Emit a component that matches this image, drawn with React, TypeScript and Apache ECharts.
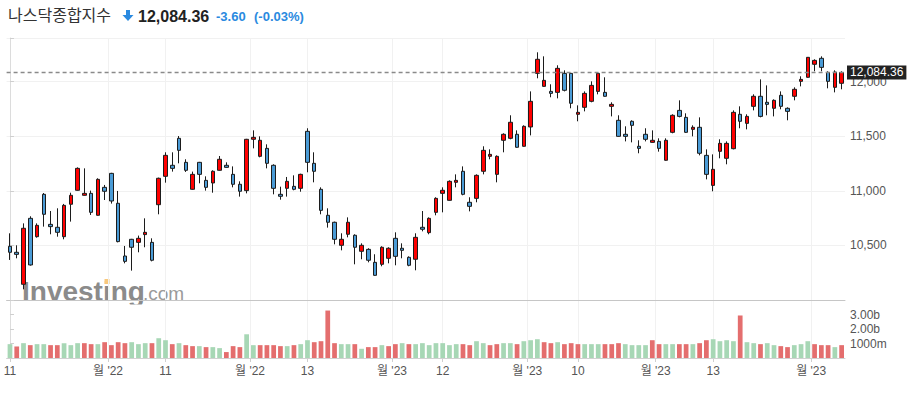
import React, { useEffect, useRef } from "react";
import * as echarts from "echarts";

const octDays = [11, 12, 13, 14, 17, 18, 19, 20, 21, 24, 25, 26, 27, 28, 31];
const novDays = [1, 2, 3, 4, 7, 8, 9, 10, 11, 14, 15, 16, 17, 18, 21, 22, 23, 25, 28, 29, 30];
const decDays = [1, 2, 5, 6, 7, 8, 9, 12, 13, 14, 15, 16, 19, 20, 21, 22, 23, 27, 28, 29, 30];
const janDays = [3, 4, 5, 6, 9, 10, 11, 12, 13, 17, 18, 19, 20, 23, 24, 25, 26, 27, 30, 31];
const febDays = [1, 2, 3, 6, 7, 8, 9, 10, 13, 14, 15, 16, 17, 21, 22, 23, 24, 27, 28];
const marDays = [1, 2, 3, 6, 7, 8, 9, 10, 13, 14, 15, 16, 17, 20, 21, 22, 23, 24, 27, 28, 29, 30, 31];
const aprDays = [3, 4, 5, 6, 10];

const categories: string[] = [
  ...octDays.map((d) => `2022-10-${d}`),
  ...novDays.map((d) => `2022-11-${d}`),
  ...decDays.map((d) => `2022-12-${d}`),
  ...janDays.map((d) => `2023-01-${d}`),
  ...febDays.map((d) => `2023-02-${d}`),
  ...marDays.map((d) => `2023-03-${d}`),
  ...aprDays.map((d) => `2023-04-${d}`),
];

// [open, close, low, high]
const ohlc: number[][] = [
  [10492, 10437, 10367, 10611], [10437, 10418, 10382, 10501], [10144, 10657, 10098, 10702], [10748, 10321, 10315, 10767],
  [10580, 10684, 10571, 10702], [10968, 10785, 10672, 10980], [10693, 10672, 10602, 10815], [10666, 10620, 10580, 10840],
  [10580, 10867, 10556, 10880], [10877, 10959, 10718, 10983], [11005, 11206, 11002, 11215], [10959, 10977, 10956, 11206],
  [10977, 10803, 10779, 11002], [10776, 11105, 10773, 11115], [11032, 10996, 10916, 11054], [11160, 10907, 10883, 11165],
  [10886, 10535, 10528, 10999], [10403, 10354, 10336, 10495], [10556, 10483, 10269, 10560], [10528, 10565, 10437, 10590],
  [10599, 10620, 10483, 10748], [10528, 10364, 10354, 10565], [10873, 11115, 10785, 11121], [11133, 11325, 11075, 11353],
  [11234, 11206, 11176, 11353], [11481, 11371, 11252, 11502], [11261, 11188, 11173, 11289], [11014, 11151, 11010, 11176],
  [11261, 11151, 11069, 11265], [11096, 11032, 11002, 11133], [11072, 11179, 10983, 11188], [11188, 11289, 11185, 11319],
  [11234, 11215, 11212, 11261], [11151, 11060, 11032, 11224], [11060, 10996, 10947, 11087], [11002, 11472, 10977, 11476],
  [11472, 11490, 11389, 11554], [11316, 11463, 11307, 11499], [11389, 11252, 11206, 11426], [11234, 11023, 10968, 11243],
  [10968, 10950, 10919, 11038], [11023, 11087, 10947, 11127], [11041, 11014, 11005, 11142], [11023, 11151, 10992, 11157],
  [11545, 11261, 11170, 11573], [11252, 11179, 11078, 11353], [11014, 10821, 10785, 11032], [10776, 10712, 10663, 10840],
  [10712, 10556, 10510, 10718], [10501, 10556, 10455, 10611], [10602, 10712, 10574, 10757], [10593, 10483, 10327, 10602],
  [10446, 10501, 10373, 10519], [10464, 10364, 10345, 10474], [10345, 10226, 10223, 10419], [10327, 10483, 10309, 10492],
  [10382, 10474, 10336, 10483], [10565, 10400, 10318, 10620], [10474, 10455, 10382, 10519], [10391, 10318, 10309, 10400],
  [10373, 10574, 10272, 10611], [10666, 10648, 10629, 10815], [10617, 10748, 10602, 10757], [10803, 10931, 10776, 10941],
  [10977, 11005, 10803, 11032], [10913, 11087, 10910, 11096], [11078, 11096, 11032, 11151], [11179, 10968, 10959, 11224],
  [10895, 10858, 10812, 10941], [10931, 11142, 10895, 11151], [11179, 11371, 11151, 11408], [11316, 11334, 11289, 11380],
  [11151, 11316, 11078, 11325], [11463, 11518, 11353, 11527], [11481, 11628, 11472, 11692], [11518, 11399, 11395, 11554],
  [11408, 11591, 11405, 11600], [11585, 11820, 11508, 11911], [12076, 12205, 12031, 12269], [11957, 12012, 11954, 12232],
  [11911, 11893, 11857, 11976], [11902, 12122, 11847, 12150], [12076, 11921, 11911, 12104], [12076, 11802, 11756, 12080],
  [11701, 11719, 11637, 11783], [11765, 11893, 11728, 11911], [11820, 11966, 11811, 12003], [11911, 12076, 11884, 12085],
  [11902, 11866, 11863, 12040], [11774, 11792, 11682, 11811], [11646, 11499, 11496, 11692], [11518, 11499, 11453, 11591],
  [11637, 11600, 11444, 11646], [11408, 11389, 11344, 11463], [11518, 11472, 11453, 11573], [11444, 11463, 11441, 11554],
  [11453, 11389, 11359, 11481], [11280, 11463, 11276, 11481], [11536, 11692, 11527, 11701], [11737, 11682, 11673, 11829],
  [11673, 11536, 11530, 11710], [11563, 11582, 11499, 11600], [11582, 11344, 11325, 11673], [11325, 11151, 11105, 11380],
  [11050, 11197, 10996, 11334], [11362, 11435, 11298, 11472], [11298, 11435, 11243, 11453], [11386, 11719, 11380, 11737],
  [11701, 11637, 11573, 11774], [11618, 11682, 11563, 11701], [11774, 11866, 11737, 11884], [11866, 11682, 11673, 12021],
  [11811, 11792, 11692, 11966], [11756, 11829, 11682, 11838], [11875, 11774, 11747, 11911], [11756, 11728, 11646, 11765],
  [11866, 11930, 11829, 11948], [12003, 12021, 11957, 12049], [12040, 12223, 12037, 12225], [12159, 12195, 12095, 12205],
  [12214, 12131, 12095, 12232], [12085, 12003, 11939, 12095], [11948, 12088, 11902, 12104], [11985, 12084.36, 11930, 12095],
];

// volume in millions
const volumeM: number[] = [
  955, 795, 1023, 886, 955, 955, 886, 886, 1023, 886, 1023, 1023, 955, 955, 1091, 886,
  1091, 1023, 1091, 955, 1023, 1023, 1364, 1227, 955, 1023, 886, 818, 818, 750, 750, 682,
  409, 818, 750, 1636, 886, 886, 886, 886, 818, 818, 886, 955, 1227, 1091, 1159, 3273,
  1023, 955, 955, 955, 636, 750, 750, 886, 818, 955, 1023, 955, 955, 1023, 886, 1023,
  1023, 886, 955, 955, 886, 1159, 1023, 886, 955, 1023, 1023, 955, 1159, 1227, 1295, 1091,
  1023, 1091, 955, 1023, 955, 955, 955, 955, 955, 955, 1023, 955, 886, 886, 886, 1227,
  955, 955, 955, 955, 955, 955, 1023, 1227, 1295, 1159, 1227, 1159, 2932, 1091, 1023, 955,
  1023, 886, 818, 750, 886, 955, 1159, 955, 886, 886, 750, 886,
];
// 1 = green bar, -1 = red bar
const volumeDir: number[] = [
  1, -1, 1, -1, 1, 1, -1, -1, 1, 1, 1, -1, -1, 1, -1, -1,
  -1, -1, 1, 1, 1, -1, 1, 1, -1, 1, -1, -1, 1, -1, 1, 1,
  -1, -1, -1, 1, 1, -1, -1, -1, -1, 1, -1, 1, 1, -1, -1, -1,
  -1, 1, 1, -1, 1, -1, -1, 1, -1, -1, 1, -1, 1, 1, 1, 1,
  1, 1, 1, -1, -1, 1, 1, -1, -1, 1, 1, -1, 1, 1, 1, -1,
  -1, 1, -1, -1, -1, 1, 1, 1, -1, -1, -1, 1, 1, 1, 1, -1,
  -1, 1, 1, -1, -1, 1, -1, -1, 1, 1, 1, 1, -1, 1, 1, -1,
  1, 1, -1, -1, 1, 1, 1, -1, -1, -1, 1, -1,
];

const xTickPos = [0, 14.5, 23, 35.5, 44, 56.5, 64, 76.5, 84, 95.5, 104, 118.5];
const xTickLabels = ["11", "월 '22", "11", "월 '22", "13", "월 '23", "12", "월 '23", "10", "월 '23", "13", "월 '23"];

const priceTicks = [10500, 11000, 11500, 12000];
const volumeTickLabels: Record<number, string> = { 1000: "1000m", 2000: "2.00b", 3000: "3.00b" };

const titleName = "나스닥종합지수";
const lastPrice = 12084.36;
const lastPriceText = "12,084.36";
const changeText = "-3.60";
const changePctText = "(-0.03%)";

const FONT = "'Liberation Sans', Arial, 'Noto Sans CJK KR', sans-serif";

export default function App() {
  const ref = useRef<HTMLDivElement>(null);
  useEffect(() => {
    if (!ref.current) return;
    const chart = echarts.init(ref.current, null, { renderer: "svg" });
    const n = categories.length;
    const gridLeft = 6.6;
    const gridRight = 64;
    const option: any = {
      animation: false,
      backgroundColor: "#ffffff",
      textStyle: { fontFamily: FONT },
      grid: [
        { left: gridLeft, right: gridRight, top: 38, height: 262 },
        { left: gridLeft, right: gridRight, top: 300, height: 58 },
      ],
      xAxis: [
        { type: "category", gridIndex: 0, data: categories, show: false },
        { type: "category", gridIndex: 1, data: categories, show: false },
        {
          type: "value", gridIndex: 0, min: -0.5, max: n - 0.5, position: "bottom",
          axisLine: { show: true, lineStyle: { color: "#c6c6c6", width: 1 } },
          axisTick: { show: false, customValues: xTickPos },
          axisLabel: { show: false, customValues: xTickPos },
          splitLine: { show: true, lineStyle: { color: "#f1f1f1", width: 1 } },
        },
        {
          type: "value", gridIndex: 1, min: -0.5, max: n - 0.5, position: "bottom",
          axisLine: { show: true, lineStyle: { color: "#d0d0d0", width: 1 } },
          axisTick: { show: true, length: 4, customValues: xTickPos, lineStyle: { color: "#cfcfcf" } },
          axisLabel: {
            show: true, customValues: xTickPos, color: "#555", fontSize: 12, margin: 7, fontFamily: FONT,
            formatter: (v: number) => {
              const i = xTickPos.findIndex((p) => Math.abs(p - v) < 1e-6);
              return i >= 0 ? xTickLabels[i] : "";
            },
          },
          splitLine: { show: true, lineStyle: { color: "#f1f1f1", width: 1 } },
        },
      ],
      yAxis: [
        {
          type: "value", gridIndex: 0, position: "right", min: 10000, max: 12400, interval: 500,
          axisLine: { show: true, lineStyle: { color: "#dcdcdc" } },
          axisTick: { show: true, length: 4, lineStyle: { color: "#cfcfcf" } },
          axisLabel: {
            color: "#555", fontSize: 12, margin: 5, fontFamily: FONT,
            formatter: (v: number) => (priceTicks.includes(v) ? v.toLocaleString("en-US") : ""),
          },
          splitLine: { show: true, lineStyle: { color: "#f1f1f1" } },
        },
        {
          type: "value", gridIndex: 1, position: "right", min: 0, max: 4000, interval: 1000,
          axisLine: { show: true, lineStyle: { color: "#dcdcdc" } },
          axisTick: { show: true, length: 4, lineStyle: { color: "#cfcfcf" } },
          axisLabel: {
            color: "#555", fontSize: 12, margin: 5, fontFamily: FONT,
            formatter: (v: number) => volumeTickLabels[v] || "",
          },
          splitLine: { show: false },
        },
      ],
      graphic: [
        { type: "text", left: 8, top: 6, style: { text: titleName, fill: "#333", font: "16px 'Noto Sans CJK KR', sans-serif" } },
        { type: "rect", shape: { x: 126, y: 10, width: 4, height: 6 }, style: { fill: "#2a8ae0" } },
        { type: "polygon", shape: { points: [[122.5, 15], [133.5, 15], [128, 21]] }, style: { fill: "#2a8ae0" } },
        { type: "text", left: 138, top: 8, style: { text: lastPriceText, fill: "#222", font: `bold 16px ${FONT}` } },
        { type: "text", left: 216, top: 10, style: { text: changeText, fill: "#2a8ae0", font: `bold 13px ${FONT}` } },
        { type: "text", left: 254, top: 10, style: { text: changePctText, fill: "#2a8ae0", font: `bold 13px ${FONT}` } },
        { type: "text", left: 22, top: 277, z: -10, style: { text: "Investing", fill: "#8b8b8b", font: `bold 28px ${FONT}` } },
        { type: "text", left: 143, top: 284, z: -10, style: { text: ".com", fill: "#9a9a9a", font: `19px ${FONT}` } },
        { type: "rect", z: -9, shape: { x: 104.5, y: 279, width: 5, height: 5 }, style: { fill: "#f8c87c" } },
        { type: "rect", z: -8, shape: { x: 0, y: 304.5, width: 844, height: 7 }, style: { fill: "#ffffff" } },
      ],
      series: [
        {
          type: "candlestick", name: "price", xAxisIndex: 0, yAxisIndex: 0, data: ohlc, barWidth: 4,
          itemStyle: { color: "#ff0000", color0: "#4a9bd6", borderColor: "#1c1c1c", borderColor0: "#1c1c1c", borderWidth: 1 },
          markLine: {
            silent: true, symbol: ["none", "none"],
            data: [{ yAxis: lastPrice }],
            lineStyle: { type: [4, 3], color: "#8a8a8a", width: 1.3 },
            label: {
              show: true, position: "end", formatter: lastPriceText, color: "#fff", backgroundColor: "#222",
              padding: [1, 3, 1, 3], fontSize: 12, fontFamily: FONT, distance: 2,
            },
          },
        },
        {
          type: "bar", name: "volume", xAxisIndex: 1, yAxisIndex: 1, barWidth: "70%",
          data: volumeM.map((v, i) => ({ value: v, itemStyle: { color: volumeDir[i] > 0 ? "#a7d7b5" : "#e46e6e" } })),
        },
      ],
    };
    chart.setOption(option);
    return () => chart.dispose();
  }, []);
  return <div ref={ref} style={{ position: "fixed", left: 0, top: 0, width: 909, height: 393 }} />;
}
